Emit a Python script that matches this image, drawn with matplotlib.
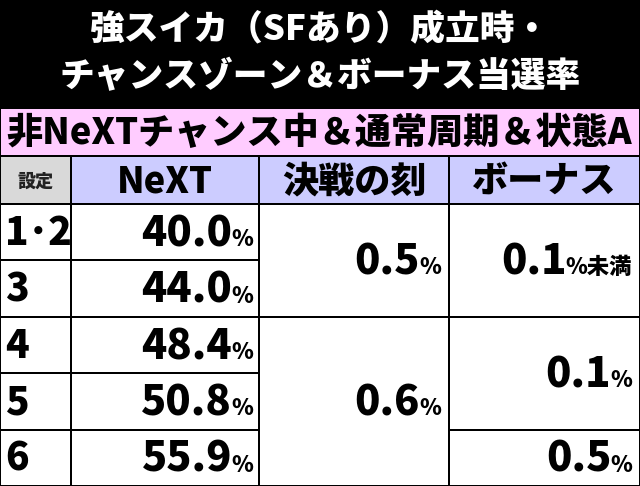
import matplotlib
matplotlib.use("Agg")
import matplotlib.pyplot as plt
from matplotlib.patches import Rectangle

plt.rcParams["font.family"] = ["Noto Sans CJK JP", "DejaVu Sans"]
WEIGHT = "black"

# ── Data ────────────────────────────────────────────────
title_lines = ["強スイカ（SFあり）成立時・", "チャンスゾーン＆ボーナス当選率"]
subtitle = "非NeXTチャンス中＆通常周期＆状態A"
headers = ["設定", "NeXT", "決戦の刻", "ボーナス"]
settings = ["1･2", "3", "4", "5", "6"]
next_rate = ["40.0", "44.0", "48.4", "50.8", "55.9"]
# merged cells: (first row, last row, value, suffix)
kessen = [(0, 1, "0.5", "%"), (2, 4, "0.6", "%")]
bonus = [(0, 1, "0.1", "%未満"), (2, 3, "0.1", "%"), (4, 4, "0.5", "%")]

# ── Layout (pixel coords) ───────────────────────────────
W, H = 640, 486
cols = [0, 71, 259, 449, 640]
row_top = 204
row_h = 56.4

fig = plt.figure(figsize=(6.4, 4.86), dpi=100)
ax = fig.add_axes([0, 0, 1, 1])
ax.set_xlim(0, W)
ax.set_ylim(H, 0)
ax.axis("off")
fig.patch.set_facecolor("black")

def cell(x0, y0, x1, y1, color):
    ax.add_patch(Rectangle((x0 + 1, y0 + 1), x1 - x0 - 2, y1 - y0 - 2,
                           facecolor=color, edgecolor="none"))

def value(xr, yc, num, suffix):
    t = ax.text(xr, yc, suffix, ha="right", va="baseline", fontsize=16,
                fontweight=WEIGHT, color="black")
    fig.canvas.draw()
    bb = t.get_window_extent()
    ax.text(xr - bb.width + 1, yc, num, ha="right", va="baseline",
            fontsize=30, fontweight=WEIGHT, color="black")

# title band
for i, line in enumerate(title_lines):
    ax.text(W / 2, 30 + i * 47, line, ha="center", va="center", color="white",
            fontsize=25, fontweight=WEIGHT)

# subtitle band
cell(0, 108, W, 156, "#ffccff")
ax.text(6, 133, subtitle, ha="left", va="center", fontsize=26,
        fontweight=WEIGHT, color="black")

# header row
hdr_colors = ["#d9d9d9", "#ccccff", "#ccccff", "#ccccff"]
for j, h in enumerate(headers):
    cell(cols[j], 156, cols[j + 1], row_top, hdr_colors[j])
    ax.text((cols[j] + cols[j + 1]) / 2, 181, h, ha="center", va="center",
            fontsize=13 if j == 0 else 26, fontweight=WEIGHT,
            color="#222222" if j == 0 else "black")

# settings + NeXT
for i, (s, v) in enumerate(zip(settings, next_rate)):
    y0 = row_top + i * row_h
    cell(cols[0], y0, cols[1], y0 + row_h, "white")
    cell(cols[1], y0, cols[2], y0 + row_h, "white")
    ax.text(cols[0] + 5, y0 + row_h / 2 + 1, s, ha="left", va="center",
            fontsize=28, fontweight=WEIGHT, color="black")
    value(cols[2] - 6, y0 + row_h / 2 + 14, v, "%")

# merged columns
for col, groups in ((2, kessen), (3, bonus)):
    for r0, r1, v, suf in groups:
        y0 = row_top + r0 * row_h
        y1 = row_top + (r1 + 1) * row_h
        cell(cols[col], y0, cols[col + 1], y1, "white")
        value(cols[col + 1] - 8, (y0 + y1) / 2 + 14, v, suf)

fig.savefig("out.png", dpi=100, facecolor="black")
